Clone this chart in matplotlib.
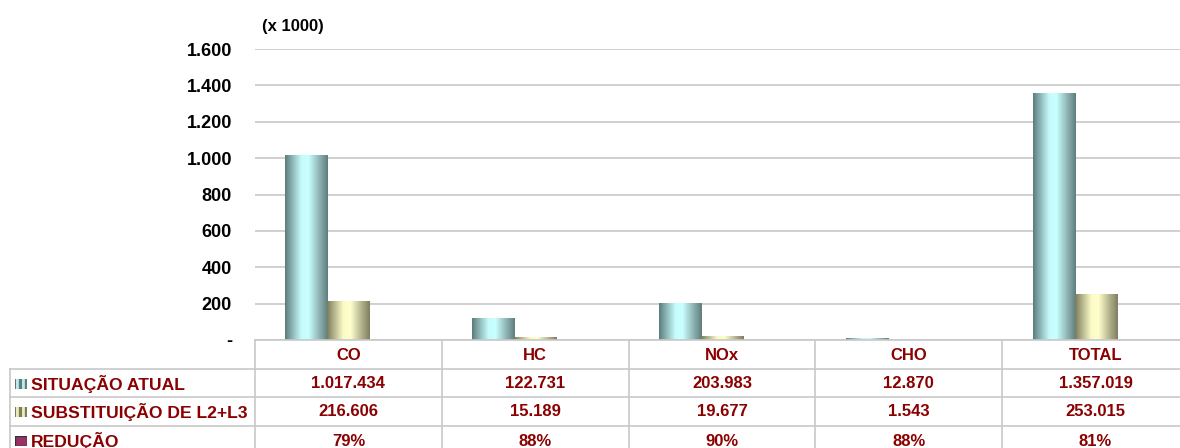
import numpy as np
import matplotlib
matplotlib.use("Agg")
import matplotlib.pyplot as plt
from matplotlib.colors import LinearSegmentedColormap
from matplotlib.patches import Rectangle
from matplotlib import transforms

plt.rcParams['font.family'] = ['Liberation Sans', 'DejaVu Sans']

# Emission data
categories = ["CO", "HC", "NOx", "CHO", "TOTAL"]
situacao_atual = [1017434, 122731, 203983, 12870, 1357019]
substituicao = [216606, 15189, 19677, 1543, 253015]
reducao = [0.79, 0.88, 0.90, 0.88, 0.81]
series_names = ["SITUAÇÃO ATUAL", "SUBSTITUIÇÃO DE L2+L3", "REDUÇÃO"]
yticks = [0, 200, 400, 600, 800, 1000, 1200, 1400, 1600]

W, H = 1180, 448
fig = plt.figure(figsize=(W / 100, H / 100), dpi=100)

def fx(px):
    return px / W

def fy(py):
    return 1 - py / H

# plot area spans the five table columns (the last one runs past the edge)
left_px, right_px, top_px, bottom_px = 255, 1189, 49, 340
ax = fig.add_axes([fx(left_px), fy(bottom_px), fx(right_px - left_px),
                   (bottom_px - top_px) / H])
ax.set_xlim(-0.5, len(categories) - 0.5)
ax.set_ylim(0, 1600)
for s in ax.spines.values():
    s.set_visible(False)
ax.set_xticks([])
ax.set_yticks(yticks)
ax.set_yticklabels(["-" if v == 0 else f"{v:,}".replace(",", ".") for v in yticks],
                   fontsize=13, fontweight="bold", color="black")
ax.tick_params(axis="y", length=0, pad=16.5)
ax.grid(axis="y", color="#d0d0d0", linewidth=1.4)
ax.set_axisbelow(True)

cmap_teal = LinearSegmentedColormap.from_list(
    "teal", [(0, "#5b7b7b"), (0.12, "#7ea5a5"), (0.38, "#c6fbfb"),
             (0.55, "#c8ffff"), (0.8, "#8fb3b3"), (1, "#5e7e7e")])
cmap_yellow = LinearSegmentedColormap.from_list(
    "yel", [(0, "#7a7a5c"), (0.12, "#a5a57e"), (0.38, "#fbfbc8"),
            (0.55, "#ffffcc"), (0.8, "#b3b38f"), (1, "#7e7e5e")])
grad = np.linspace(0, 1, 256).reshape(1, -1)

x = np.arange(len(categories))
bw = 0.225
vals = [np.array(situacao_atual) / 1000, np.array(substituicao) / 1000,
        np.array(reducao) / 1000]
fills = [cmap_teal, cmap_yellow, None]
for i, (v, cm) in enumerate(zip(vals, fills)):
    bars = ax.bar(x + (i - 1) * bw, v, width=bw,
                  color="#993366" if cm is None else "none", linewidth=0, zorder=2)
    if cm is None:
        continue
    for b in bars:
        x0, y0 = b.get_x(), b.get_y()
        im = ax.imshow(grad, cmap=cm, aspect="auto", interpolation="bilinear",
                       extent=(x0, x0 + b.get_width(), y0, y0 + b.get_height()),
                       zorder=2)
        im.set_clip_path(b)
ax.set_xlim(-0.5, len(categories) - 0.5)
ax.set_ylim(0, 1600)

fig.text(fx(262), fy(27), "(x 1000)", fontsize=12, fontweight="bold",
         ha="left", va="center", color="black")

# data table under the plot
grid_c = "#c8c8c8"
txt_c = "#8b0000"
row_lines = [340, 369, 397, 426, 455]
row_centers = [355, 384, 412, 441]
lw = 1.2
fig.add_artist(plt.Line2D([fx(left_px), fx(W)], [fy(340), fy(340)], color=grid_c, lw=lw))
for yl in row_lines[1:4]:
    fig.add_artist(plt.Line2D([fx(10), fx(W)], [fy(yl), fy(yl)], color=grid_c, lw=lw))
fig.add_artist(plt.Line2D([fx(10), fx(10)], [fy(369), fy(H + 5)], color=grid_c, lw=lw))
for k in range(len(categories)):
    xb = left_px + k * (right_px - left_px) / len(categories)
    fig.add_artist(plt.Line2D([fx(xb), fx(xb)], [fy(340), fy(H + 5)], color=grid_c, lw=lw))

tr = transforms.blended_transform_factory(ax.transData, fig.transFigure)
for xi, c in zip(x, categories):
    fig.text(xi, fy(row_centers[0]), c, transform=tr, ha="center", va="center",
             fontsize=12, fontweight="bold", color=txt_c)
rows = [[f"{v:,}".replace(",", ".") for v in situacao_atual],
        [f"{v:,}".replace(",", ".") for v in substituicao],
        [f"{r:.0%}" for r in reducao]]
for r, (name, cells) in enumerate(zip(series_names, rows)):
    yc = row_centers[r + 1]
    fig.text(fx(31), fy(yc), name, ha="left", va="center", fontsize=12.6,
             fontweight="bold", color=txt_c)
    for xi, s in zip(x, cells):
        fig.text(xi, fy(yc), s, transform=tr, ha="center", va="center",
                 fontsize=12, fontweight="bold", color=txt_c)
    # legend key
    kx0, kx1, ky0, ky1 = 15, 27, yc - 5, yc + 5
    kax = fig.add_axes([fx(kx0), fy(ky1), fx(kx1 - kx0), (ky1 - ky0) / H])
    kax.set_axis_off()
    if fills[r] is not None:
        kax.imshow(np.tile(np.linspace(0, 1, 4), 2).reshape(1, -1),
                   cmap=fills[r], aspect="auto", interpolation="nearest")
    else:
        kax.add_patch(Rectangle((0, 0), 1, 1, facecolor="#993366",
                                edgecolor="#333333", lw=1, transform=kax.transAxes))

fig.savefig("out.png", dpi=100)
